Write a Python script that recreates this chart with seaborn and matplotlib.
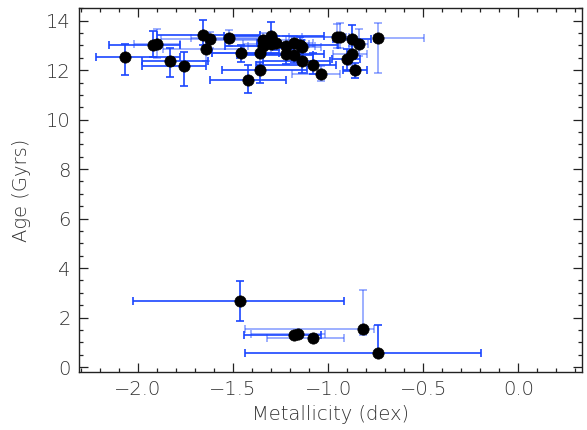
import numpy as np
import pandas as pd
import matplotlib
matplotlib.use("Agg")
import matplotlib.pyplot as plt
from matplotlib.ticker import MultipleLocator
import seaborn as sns

# metallicity (dex) and age (Gyr), with asymmetric errors
metallicity = [-2.07, -1.92, -1.90, -1.83, -1.76, -1.66, -1.62, -1.64, -1.52, -1.46,
               -1.42, -1.36, -1.36, -1.34, -1.34, -1.30, -1.30, -1.275, -1.22, -1.22,
               -1.18, -1.15, -1.14, -1.18, -1.14, -1.08, -1.04, -0.956, -0.938, -0.877,
               -0.838, -0.877, -0.90, -0.858, -0.737,
               -1.461, -0.819, -1.18, -1.161, -1.079, -0.737]
age = [12.52, 13.02, 13.05, 12.39, 12.17, 13.41, 13.24, 12.86, 13.28, 12.68,
       11.59, 11.99, 12.68, 13.20, 12.97, 13.38, 13.04, 13.10, 12.98, 12.66,
       13.08, 13.00, 12.93, 12.60, 12.39, 12.19, 11.85, 13.33, 13.35, 13.27,
       13.06, 12.64, 12.46, 11.99, 13.31,
       2.66, 1.52, 1.31, 1.35, 1.19, 0.56]
met_err_lo = [0.15, 0.23, 0.12, 0.15, 0.22, 0.24, 0.26, 0.23, 0.20, 0.15,
              0.20, 0.20, 0.25, 0.30, 0.20, 0.25, 0.15, 0.10, 0.20, 0.25,
              0.15, 0.10, 0.20, 0.30, 0.20, 0.30, 0.15, 0.25, 0.20, 0.10,
              0.05, 0.10, 0.08, 0.063, 0.02,
              0.565, 0.616, 0.264, 0.242, 0.245, 0.698]
met_err_hi = [0.29, 0.14, 0.12, 0.20, 0.12, 0.30, 0.35, 0.20, 0.25, 0.20,
              0.20, 0.25, 0.20, 0.15, 0.15, 0.28, 0.20, 0.15, 0.15, 0.20,
              0.10, 0.20, 0.10, 0.10, 0.15, 0.12, 0.10, 0.05, 0.05, 0.10,
              0.05, 0.08, 0.07, 0.06, 0.24,
              0.544, 0.06, 0.145, 0.144, 0.162, 0.539]
age_err_lo = [0.70, 0.50, 0.55, 0.65, 0.80, 0.40, 0.35, 0.50, 0.30, 0.35,
              0.51, 0.50, 0.40, 0.30, 0.35, 0.30, 0.40, 0.30, 0.35, 0.40,
              0.30, 0.35, 0.40, 0.30, 0.50, 0.35, 0.30, 0.45, 0.45, 0.65,
              0.50, 0.45, 0.50, 0.31, 1.41,
              0.78, 0.21, 0.10, 0.08, 0.10, 0.0]
age_err_hi = [0.55, 0.55, 0.60, 0.50, 0.57, 0.62, 0.30, 0.60, 0.35, 0.32,
              0.61, 0.35, 0.40, 0.30, 0.30, 0.57, 0.35, 0.30, 0.40, 0.40,
              0.30, 0.35, 0.30, 0.30, 0.40, 0.50, 0.30, 0.55, 0.55, 0.55,
              0.60, 0.35, 0.40, 0.30, 0.59,
              0.81, 1.61, 0.08, 0.10, 0.10, 1.12]
# which bars look faded in the original
faded = [0, 0, 1, 0, 0, 0, 1, 1, 1, 0,
         0, 0, 1, 1, 0, 0, 1, 0, 1, 0,
         1, 0, 1, 0, 0, 0, 1, 1, 1, 0,
         1, 1, 0, 0, 1,
         0, 1, 0, 1, 1, 0]

df = pd.DataFrame({"met": metallicity, "age": age,
                   "xlo": met_err_lo, "xhi": met_err_hi,
                   "ylo": age_err_lo, "yhi": age_err_hi, "faded": faded})

sns.set_style("ticks")
plt.rcParams['font.family'] = ['DejaVu Sans']
plt.rcParams['font.weight'] = 'light'

fig = plt.figure(figsize=(5.87, 4.30), dpi=100)
ax = fig.add_axes([0.1346, 0.1349, 0.8569, 0.8458])

for flag, alpha in [(1, 0.5), (0, 1.0)]:
    sub = df[df["faded"] == flag]
    ax.errorbar(sub["met"], sub["age"],
                xerr=[sub["xlo"], sub["xhi"]], yerr=[sub["ylo"], sub["yhi"]],
                fmt="none", ecolor="#1a46ff", elinewidth=1.2, capsize=3,
                capthick=1.2, alpha=alpha, zorder=2)

sns.scatterplot(data=df, x="met", y="age", color="black", s=66,
                edgecolor="black", linewidth=0.5, ax=ax, zorder=3, legend=False)

ax.set_xlim(-2.31, 0.335)
ax.set_ylim(-0.2, 14.5)
ax.xaxis.set_major_locator(MultipleLocator(0.5))
ax.xaxis.set_minor_locator(MultipleLocator(0.1))
ax.yaxis.set_major_locator(MultipleLocator(2))
ax.yaxis.set_minor_locator(MultipleLocator(0.5))
ax.xaxis.set_major_formatter(plt.FuncFormatter(lambda v, p: f"{v:.1f}".replace("-", "\u2212")))

ax.tick_params(which="both", direction="in", top=True, right=True,
               color="#222222", width=0.9, labelsize=14, labelcolor="#333333")
ax.tick_params(which="major", length=6.5, pad=6)
ax.tick_params(which="minor", length=3.2)
for s in ax.spines.values():
    s.set_color("#222222")
    s.set_linewidth(1.0)

ax.set_xlabel("Metallicity (dex)", fontsize=14, color="#333333", labelpad=4, fontweight="light")
ax.set_ylabel("Age (Gyrs)", fontsize=14, color="#333333", labelpad=11, fontweight="light")

plt.savefig("out.png", dpi=100)
